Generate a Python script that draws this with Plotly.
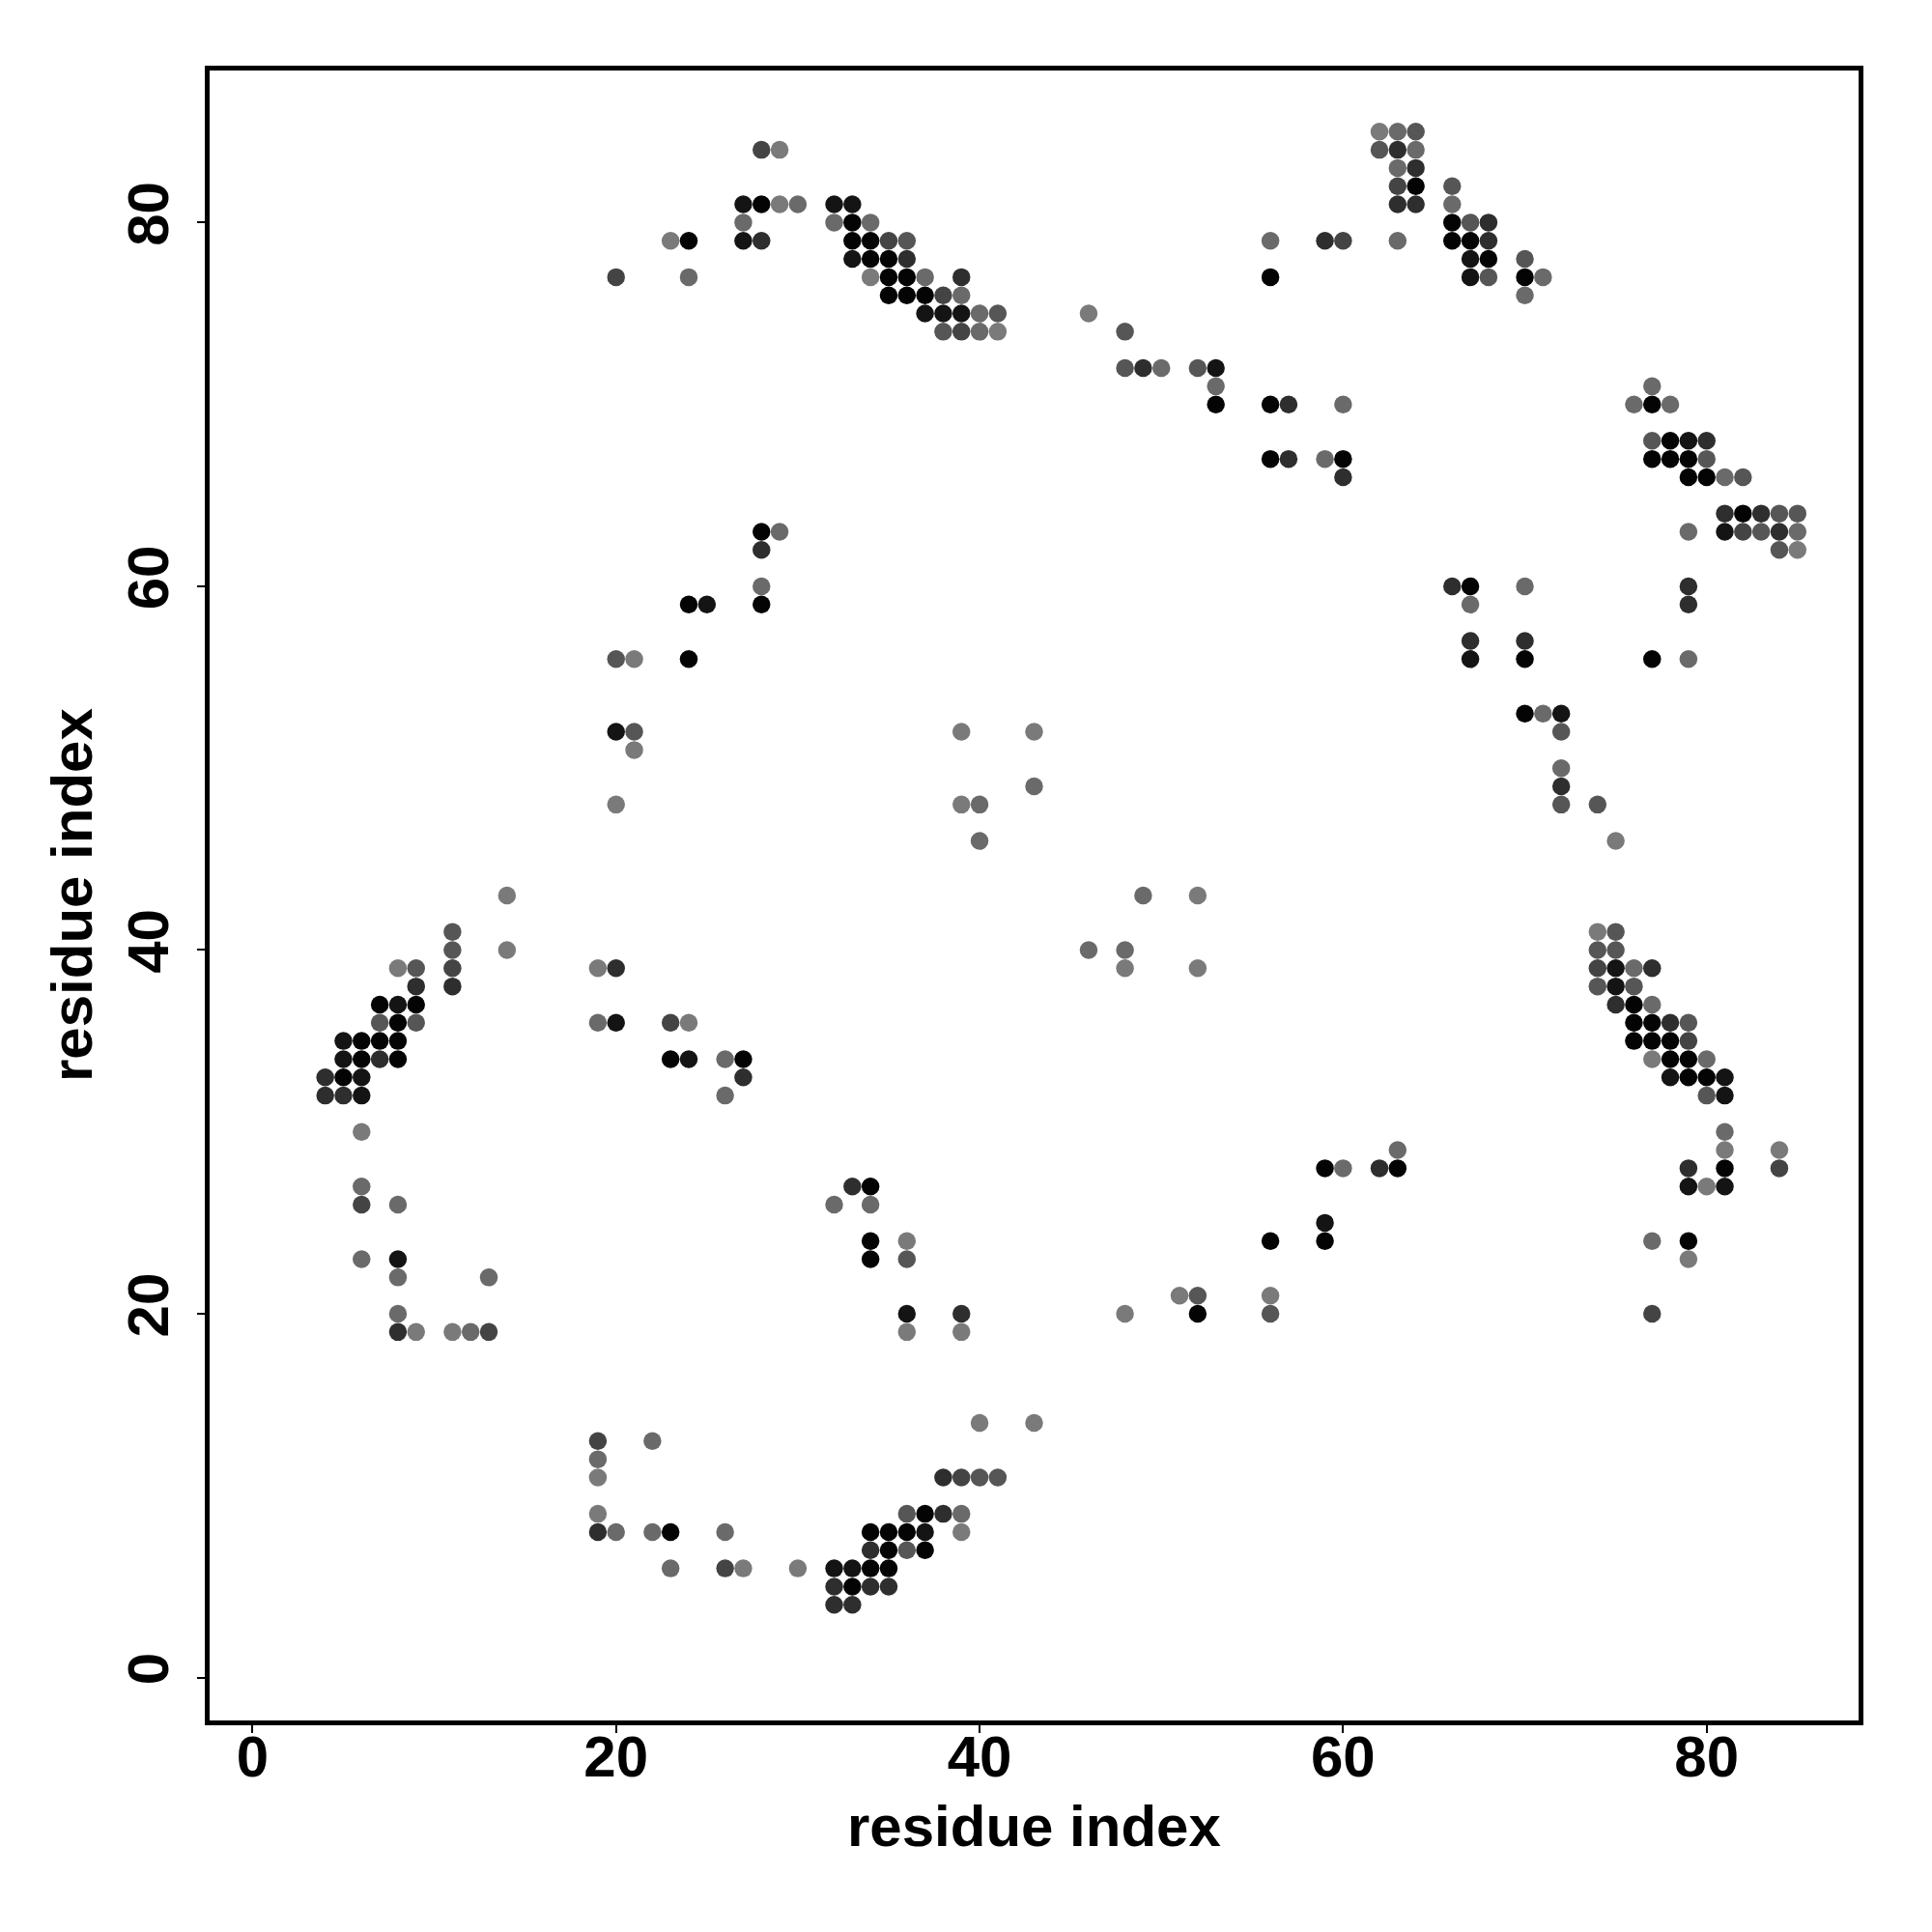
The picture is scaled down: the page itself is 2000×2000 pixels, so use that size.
import plotly.graph_objects as go

# contact map rows: (residue j on y, residues i on x, contact probability)
rows = [
    (85, [62, 63, 64], [0.05, 0.17, 0.33]),
    (84, [28, 29, 62, 63, 64], [0.47, 0.05, 0.33, 0.64, 0.17]),
    (83, [63, 64], [0.17, 0.64]),
    (82, [63, 64, 66], [0.47, 0.97, 0.33]),
    (81, [27, 28, 29, 30, 32, 33, 63, 64, 66], [0.84, 0.97, 0.05, 0.17, 0.84, 0.84, 0.64, 0.64, 0.17]),
    (80, [27, 32, 33, 34, 66, 67, 68], [0.17, 0.17, 0.97, 0.17, 0.97, 0.33, 0.64]),
    (79, [23, 24, 27, 28, 33, 34, 35, 36, 56, 59, 60, 63, 66, 67, 68],
         [0.05, 0.97, 0.84, 0.64, 0.97, 0.97, 0.47, 0.33, 0.17, 0.64, 0.47, 0.17, 0.97, 0.97, 0.64]),
    (78, [33, 34, 35, 36, 67, 68, 70], [0.84, 0.97, 0.97, 0.64, 0.84, 0.97, 0.33]),
    (77, [20, 24, 34, 35, 36, 37, 39, 56, 67, 68, 70, 71],
         [0.47, 0.17, 0.05, 0.97, 0.97, 0.17, 0.64, 0.97, 0.84, 0.33, 0.97, 0.17]),
    (76, [35, 36, 37, 38, 39, 70], [0.97, 0.97, 0.97, 0.47, 0.17, 0.17]),
    (75, [37, 38, 39, 40, 41, 46], [0.84, 0.84, 0.84, 0.17, 0.33, 0.05]),
    (74, [38, 39, 40, 41, 48], [0.33, 0.47, 0.17, 0.05, 0.33]),
    (72, [48, 49, 50, 52, 53], [0.33, 0.64, 0.17, 0.33, 0.84]),
    (71, [53, 77], [0.17, 0.17]),
    (70, [53, 56, 57, 60, 76, 77, 78], [0.97, 0.97, 0.64, 0.17, 0.17, 0.97, 0.17]),
    (68, [77, 78, 79, 80], [0.33, 0.97, 0.84, 0.64]),
    (67, [56, 57, 59, 60, 77, 78, 79, 80], [0.97, 0.64, 0.17, 0.97, 0.97, 0.97, 0.97, 0.33]),
    (66, [60, 79, 80, 81, 82], [0.64, 0.97, 0.97, 0.17, 0.33]),
    (64, [81, 82, 83, 84, 85], [0.64, 0.97, 0.64, 0.33, 0.33]),
    (63, [28, 29, 79, 81, 82, 83, 84, 85], [0.97, 0.17, 0.17, 0.84, 0.47, 0.33, 0.64, 0.17]),
    (62, [28, 84, 85], [0.64, 0.33, 0.05]),
    (60, [28, 66, 67, 70, 79], [0.17, 0.64, 0.97, 0.17, 0.64]),
    (59, [24, 25, 28, 67, 79], [0.97, 0.84, 0.97, 0.17, 0.64]),
    (57, [67, 70], [0.64, 0.64]),
    (56, [20, 21, 24, 67, 70, 77, 79], [0.33, 0.05, 0.97, 0.84, 0.97, 0.97, 0.17]),
    (53, [70, 71, 72], [0.97, 0.17, 0.84]),
    (52, [20, 21, 39, 43, 72], [0.84, 0.33, 0.05, 0.05, 0.33]),
    (51, [21], [0.05]),
    (50, [72], [0.17]),
    (49, [43, 72], [0.17, 0.64]),
    (48, [20, 39, 40, 72, 74], [0.05, 0.05, 0.17, 0.33, 0.33]),
    (46, [40, 75], [0.17, 0.05]),
    (43, [14, 49, 52], [0.05, 0.17, 0.05]),
    (41, [11, 74, 75], [0.33, 0.05, 0.33]),
    (40, [11, 14, 46, 48, 74, 75], [0.33, 0.05, 0.17, 0.17, 0.33, 0.33]),
    (39, [8, 9, 11, 19, 20, 48, 52, 74, 75, 76, 77],
         [0.05, 0.33, 0.47, 0.05, 0.64, 0.05, 0.05, 0.47, 0.84, 0.17, 0.64]),
    (38, [9, 11, 74, 75, 76], [0.64, 0.64, 0.33, 0.84, 0.33]),
    (37, [7, 8, 9, 75, 76, 77], [0.97, 0.84, 0.97, 0.64, 0.97, 0.17]),
    (36, [7, 8, 9, 19, 20, 23, 24, 76, 77, 78, 79],
         [0.33, 0.97, 0.33, 0.17, 0.84, 0.47, 0.05, 0.97, 0.97, 0.64, 0.33]),
    (35, [5, 6, 7, 8, 76, 77, 78, 79], [0.84, 0.97, 0.97, 0.97, 0.97, 0.97, 0.97, 0.47]),
    (34, [5, 6, 7, 8, 23, 24, 26, 27, 77, 78, 79, 80],
         [0.84, 0.97, 0.64, 0.97, 0.97, 0.84, 0.17, 0.97, 0.05, 0.97, 0.97, 0.17]),
    (33, [4, 5, 6, 27, 78, 79, 80, 81], [0.64, 0.97, 0.84, 0.64, 0.84, 0.97, 0.97, 0.84]),
    (32, [4, 5, 6, 26, 80, 81], [0.64, 0.64, 0.84, 0.17, 0.33, 0.84]),
    (30, [6, 81], [0.05, 0.17]),
    (29, [63, 81, 84], [0.17, 0.05, 0.05]),
    (28, [59, 60, 62, 63, 79, 81, 84], [0.97, 0.17, 0.64, 0.97, 0.64, 0.97, 0.47]),
    (27, [6, 33, 34, 79, 80, 81], [0.17, 0.64, 0.97, 0.84, 0.05, 0.84]),
    (26, [6, 8, 32, 34], [0.47, 0.17, 0.17, 0.17]),
    (25, [59], [0.84]),
    (24, [34, 36, 56, 59, 77, 79], [0.97, 0.05, 0.97, 0.97, 0.17, 0.97]),
    (23, [6, 8, 34, 36, 79], [0.17, 0.84, 0.97, 0.33, 0.05]),
    (22, [8, 13], [0.17, 0.17]),
    (21, [51, 52, 56], [0.05, 0.33, 0.05]),
    (20, [8, 36, 39, 48, 52, 56, 77], [0.17, 0.84, 0.64, 0.05, 0.97, 0.33, 0.47]),
    (19, [8, 9, 11, 12, 13, 36, 39], [0.64, 0.05, 0.05, 0.17, 0.47, 0.05, 0.05]),
    (14, [40, 43], [0.05, 0.05]),
    (13, [19, 22], [0.47, 0.17]),
    (12, [19], [0.17]),
    (11, [19, 38, 39, 40, 41], [0.05, 0.64, 0.47, 0.33, 0.33]),
    (9, [19, 36, 37, 38, 39], [0.05, 0.33, 0.97, 0.64, 0.17]),
    (8, [19, 20, 22, 23, 26, 34, 35, 36, 37, 39],
        [0.64, 0.17, 0.17, 0.97, 0.17, 0.97, 0.97, 0.97, 0.84, 0.05]),
    (7, [34, 35, 36, 37], [0.64, 0.97, 0.33, 0.97]),
    (6, [23, 26, 27, 30, 32, 33, 34, 35], [0.17, 0.47, 0.05, 0.05, 0.84, 0.84, 0.97, 0.97]),
    (5, [32, 33, 34, 35], [0.64, 0.97, 0.64, 0.64]),
    (4, [32, 33], [0.64, 0.64]),
]

tick_values = [0, 20, 40, 60, 80]
axis_title = "residue index"

residue_i, residue_j, contact_prob = [], [], []
for j, xs, ps in rows:
    for i, p in zip(xs, ps):
        residue_i.append(i)
        residue_j.append(j)
        contact_prob.append(p)

fig = go.Figure(go.Scatter(
    x=residue_i, y=residue_j, mode="markers",
    marker=dict(size=18.5, color=contact_prob, cmin=0, cmax=1,
                colorscale=[[0, "rgb(128,128,128)"], [1, "rgb(0,0,0)"]],
                showscale=False, line=dict(width=0)),
    hoverinfo="x+y",
))

font = dict(family="Liberation Sans, Arial, sans-serif", size=60, color="black", weight="bold")
axis_common = dict(
    range=[-2.36, 88.36], tickvals=tick_values, showgrid=False, zeroline=False,
    showline=True, linecolor="black", linewidth=5, mirror=True,
    ticks="outside", ticklen=8, tickwidth=2, tickcolor="black",
    tickfont=font,
)
fig.update_layout(
    width=2000, height=2000,
    margin=dict(l=209, r=84, t=65, b=227),
    plot_bgcolor="white", paper_bgcolor="white",
    showlegend=False,
    xaxis=dict(**axis_common, ticklabelstandoff=-27),
    yaxis=dict(**axis_common, tickangle=-90, ticklabelstandoff=6),
    annotations=[
        dict(text=axis_title, x=0.5, y=0, xref="paper", yref="paper",
             xanchor="center", yanchor="middle", yshift=-109, showarrow=False, font=font),
        dict(text=axis_title, x=0, y=0.5, xref="paper", yref="paper",
             xanchor="center", yanchor="middle", xshift=-143, textangle=-90,
             showarrow=False, font=font),
    ],
)
fig.write_html("out.html")
